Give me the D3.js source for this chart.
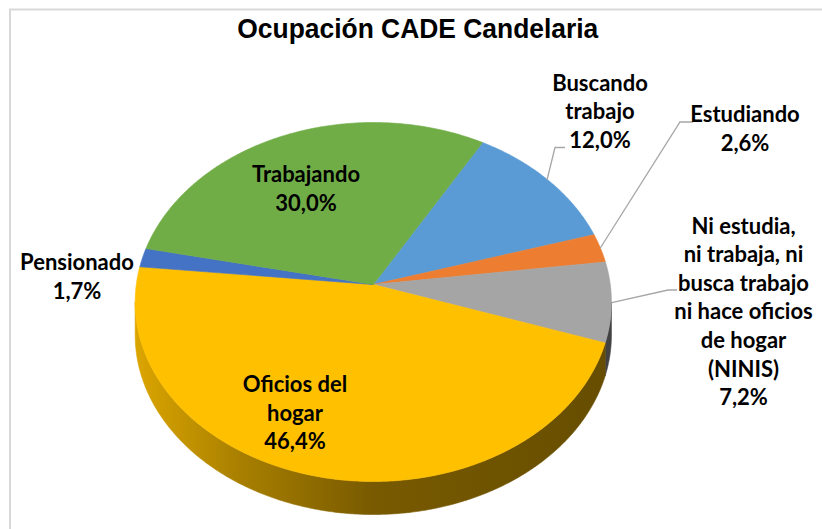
<!DOCTYPE html>
<html><head><meta charset="utf-8">
<script src="https://cdn.jsdelivr.net/npm/d3@7"></script>
<style>body{margin:0;background:#fff}svg{display:block}</style>
</head><body><svg id="c" width="822" height="529"></svg>
<script>
// ---- data ----
const title = "Ocupación CADE Candelaria";
const categories = ["Buscando trabajo", "Estudiando", "Ni estudia, ni trabaja, ni busca trabajo ni hace oficios de hogar (NINIS)", "Oficios del hogar", "Pensionado", "Trabajando"];
const values = [12.0, 2.6, 7.2, 46.4, 1.7, 30.0];
const valueLabels = ["12,0%", "2,6%", "7,2%", "46,4%", "1,7%", "30,0%"];
const labelLines = [["Buscando", "trabajo"], ["Estudiando"], ["Ni estudia,", "ni trabaja, ni", "busca trabajo", "ni hace oficios", "de hogar", "(NINIS)"], ["Oficios del", "hogar"], ["Pensionado"], ["Trabajando"]];
const colors = ["#5B9BD5", "#ED7D31", "#A5A5A5", "#FFC000", "#4472C4", "#70AD47"];

// ---- layout ----
const labelPos = [ // x center, first baseline
  [600, 90.7], [745, 122.3], [743.5, 233.5], [295, 392], [77, 270], [306, 182]
];
const leaders = [
  [[547, 180], [555, 147.5], [565, 147.5]],
  [[600, 248.5], [680, 122], [693, 122]],
  [[611.7, 302.7], [668, 290], [677, 290]],
  null, null, null
];
const lineH = 28.6;

const svg = d3.select("#c");
svg.append("rect").attr("x", 10).attr("y", 9.5).attr("width", 900).attr("height", 600)
  .attr("fill", "#fff").attr("stroke", "#d9d9d9").attr("stroke-width", 2);

svg.append("text").attr("x", 417.8).attr("y", 38.3).attr("text-anchor", "middle")
  .attr("font-family", "Liberation Sans, Arial, sans-serif").attr("font-weight", "bold")
  .attr("font-size", 27).attr("textLength", 361).attr("lengthAdjust", "spacingAndGlyphs")
  .attr("fill", "#000").text(title);

// perspective projection of tilted disk
const cx = 373.3, cy = 284.5, Fk = 237, Fsk = 177.8, e = 0.0975, depth = 33;
function proj(theta, dy) {
  const X = Math.sin(theta), Z = -Math.cos(theta), w = 1 - e * Z;
  return [cx + Fk * X / w, cy + Fsk * Z / w + (dy || 0)];
}
function arcPts(a0, a1, dy) {
  const n = Math.max(2, Math.ceil(Math.abs(a1 - a0) / (Math.PI / 360)));
  return d3.range(n + 1).map(i => proj(a0 + (a1 - a0) * i / n, dy));
}

const pie = d3.pie().sort(null).value(d => d)
  .startAngle(30 * Math.PI / 180).endAngle(30 * Math.PI / 180 + 2 * Math.PI);
const arcs = pie(values);

const defs = svg.append("defs");
colors.forEach((c, i) => {
  const g = defs.append("linearGradient").attr("id", "side" + i)
    .attr("gradientUnits", "userSpaceOnUse")
    .attr("x1", cx - Fk).attr("y1", 0).attr("x2", cx + Fk).attr("y2", 0);
  const base = d3.rgb(c);
  [[0, 0.86], [0.22, 0.66], [0.5, 0.47], [1, 0.40]].forEach(([o, k]) => {
    g.append("stop").attr("offset", o).attr("stop-color",
      d3.rgb(base.r * k, base.g * k, base.b * k).formatHex());
  });
});

const line = d3.line();
// sides (front visible band)
const sL = Math.PI / 2 + Math.asin(e), sR = 3 * Math.PI / 2 - Math.asin(e);
const gSide = svg.append("g");
arcs.forEach((a, i) => {
  const s0 = Math.max(a.startAngle, sL), s1 = Math.min(a.endAngle, sR);
  if (s1 <= s0) return;
  const top = arcPts(s0, s1, 0), bot = arcPts(s1, s0, depth);
  gSide.append("path").attr("d", line(top.concat(bot)) + "Z")
    .attr("fill", `url(#side${i})`).attr("stroke", `url(#side${i})`).attr("stroke-width", 0.6);
});
// top faces
const gTop = svg.append("g");
arcs.forEach((a, i) => {
  const pts = [[cx, cy]].concat(arcPts(a.startAngle, a.endAngle, 0));
  gTop.append("path").attr("d", line(pts) + "Z")
    .attr("fill", colors[i]).attr("stroke", colors[i]).attr("stroke-width", 0.6);
});

// leader lines
leaders.forEach(l => {
  if (!l) return;
  svg.append("path").attr("d", line(l)).attr("fill", "none")
    .attr("stroke", "#a6a6a6").attr("stroke-width", 1.3);
});

// labels
const gLab = svg.append("g").attr("font-family", "Lato, 'Open Sans', sans-serif")
  .attr("font-weight", "bold").attr("font-size", 22).attr("fill", "#000")
  .attr("text-anchor", "middle");
labelLines.forEach((lines, i) => {
  const all = lines.concat([valueLabels[i]]);
  const t = gLab.append("text").attr("x", labelPos[i][0]).attr("y", labelPos[i][1]);
  all.forEach((s, j) => {
    t.append("tspan").attr("x", labelPos[i][0]).attr("dy", j === 0 ? 0 : lineH).text(s);
  });
});
</script></body></html>
